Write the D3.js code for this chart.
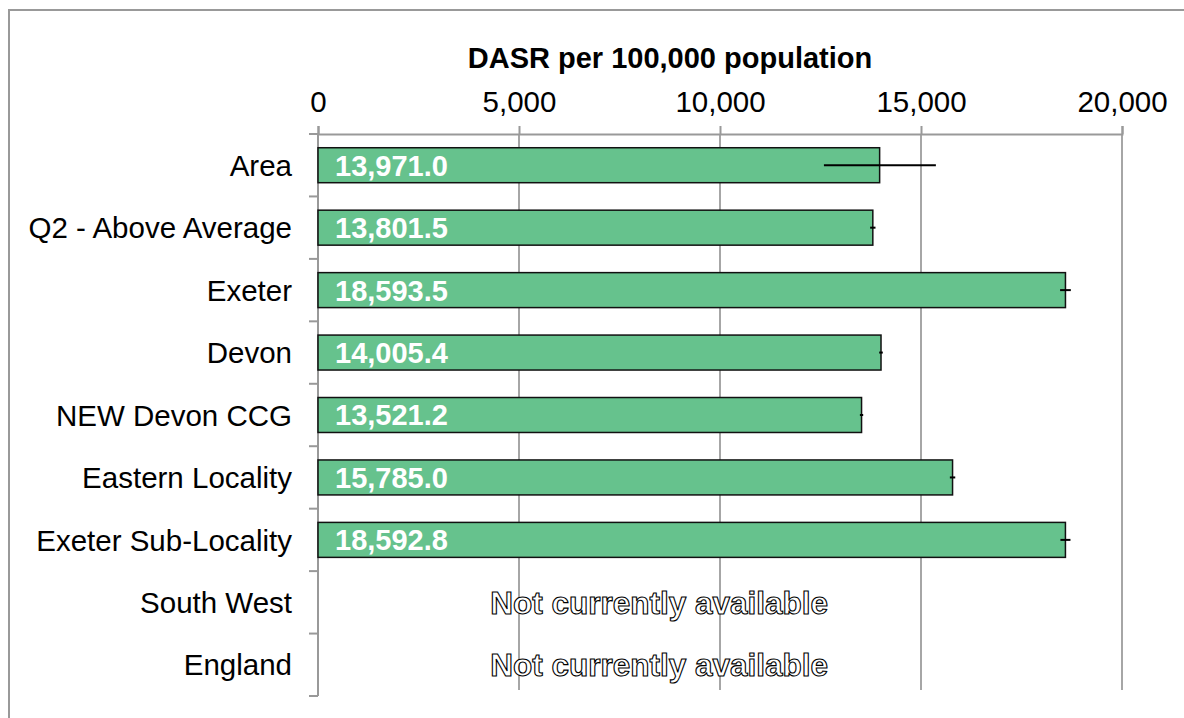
<!DOCTYPE html>
<html lang="en">
<head>
  <meta charset="UTF-8">
  <title>DASR per 100,000 population</title>
  <script src="https://d3js.org/d3.v7.min.js"></script>
  <style>
    body { margin: 0; background: #fff; font-family: Arial, "Liberation Sans", sans-serif; }
    svg { display: block; }
    .cat { font-size: 29.5px; fill: #000; }
    .tick text { font-size: 29.5px; fill: #000; font-family: Arial, "Liberation Sans", sans-serif; }
    .val { font-size: 29px; font-weight: bold; fill: #fff; }
    .na { font-size: 31.5px; font-weight: bold; fill: #fff; stroke: #000; stroke-width: 1.1px; }
  </style>
</head>
<body>
<svg id="chart"></svg>
<script>
  // data
  const categories = ["Area", "Q2 - Above Average", "Exeter", "Devon", "NEW Devon CCG",
                      "Eastern Locality", "Exeter Sub-Locality", "South West", "England"];
  const values = [13971.0, 13801.5, 18593.5, 14005.4, 13521.2, 15785.0, 18592.8, null, null];
  const lower  = [12585, 13735, 18460, 13960, 13480, 15718, 18468, null, null];
  const upper  = [15370, 13868, 18727, 14050, 13562, 15852, 18718, null, null];
  const xTicks = [0, 5000, 10000, 15000, 20000];
  const naText = "Not currently available";

  const W = 1184, H = 718;
  const svg = d3.select("#chart").attr("width", W).attr("height", H);

  // outer frame
  svg.append("rect")
    .attr("x", 9).attr("y", 10).attr("width", W).attr("height", H)
    .attr("fill", "none").attr("stroke", "#999").attr("stroke-width", 2);

  const x = d3.scaleLinear().domain([0, 20000]).range([318, 1122]);
  const y = d3.scaleBand().domain(categories).range([134, 696])
    .paddingInner(0.44).paddingOuter(0.22);

  // gridlines
  svg.append("g").selectAll("line")
    .data(xTicks.slice(1))
    .join("line")
      .attr("x1", d => x(d)).attr("x2", d => x(d))
      .attr("y1", 134).attr("y2", 690)
      .attr("stroke", "#a6a6a6").attr("stroke-width", 2);

  // top axis
  const ax = svg.append("g")
    .attr("transform", "translate(0,134)")
    .call(d3.axisTop(x).tickValues(xTicks).tickSize(8).tickPadding(14)
      .tickFormat(d3.format(",")));
  ax.select(".domain").attr("stroke", "#999").attr("stroke-width", 2);
  ax.selectAll(".tick line").attr("stroke", "#999").attr("stroke-width", 2);

  // left axis
  const step = y.step();
  const bounds = d3.range(categories.length + 1).map(i => 134 + i * step);
  svg.append("line")
    .attr("x1", x(0)).attr("x2", x(0)).attr("y1", 134).attr("y2", 696)
    .attr("stroke", "#999").attr("stroke-width", 2);
  svg.append("g").selectAll("line")
    .data(bounds)
    .join("line")
      .attr("x1", x(0) - 9).attr("x2", x(0))
      .attr("y1", d => d).attr("y2", d => d)
      .attr("stroke", "#999").attr("stroke-width", 2);

  svg.append("g").selectAll("text")
    .data(categories)
    .join("text")
      .attr("class", "cat")
      .attr("x", 292)
      .attr("y", d => y(d) + y.bandwidth() / 2)
      .attr("dy", "0.36em")
      .attr("text-anchor", "end")
      .text(d => d);

  // title
  svg.append("text")
    .attr("x", 670).attr("y", 68)
    .attr("text-anchor", "middle")
    .style("font-size", "29px").style("font-weight", "bold")
    .text("DASR per 100,000 population");

  const rows = categories.map((c, i) => ({ c, v: values[i], lo: lower[i], hi: upper[i] }));
  const withVal = rows.filter(d => d.v != null);

  // bars
  svg.append("g").selectAll("rect")
    .data(withVal)
    .join("rect")
      .attr("x", x(0))
      .attr("y", d => y(d.c))
      .attr("width", d => x(d.v) - x(0))
      .attr("height", y.bandwidth())
      .attr("fill", "#66c28d")
      .attr("stroke", "#111").attr("stroke-width", 1.5);

  // error bars
  svg.append("g").selectAll("line")
    .data(withVal)
    .join("line")
      .attr("x1", d => x(d.lo)).attr("x2", d => x(d.hi))
      .attr("y1", d => y(d.c) + y.bandwidth() / 2)
      .attr("y2", d => y(d.c) + y.bandwidth() / 2)
      .attr("stroke", "#000").attr("stroke-width", 2);

  // value labels
  svg.append("g").selectAll("text")
    .data(withVal)
    .join("text")
      .attr("class", "val")
      .attr("x", x(0) + 17)
      .attr("y", d => y(d.c) + y.bandwidth() / 2)
      .attr("dy", "0.36em")
      .text(d => d3.format(",.1f")(d.v));

  // not available
  svg.append("g").selectAll("text")
    .data(rows.filter(d => d.v == null))
    .join("text")
      .attr("class", "na")
      .attr("x", x(8485))
      .attr("y", d => y(d.c) + y.bandwidth() / 2)
      .attr("dy", "0.36em")
      .attr("text-anchor", "middle")
      .text(naText);
</script>
</body>
</html>
